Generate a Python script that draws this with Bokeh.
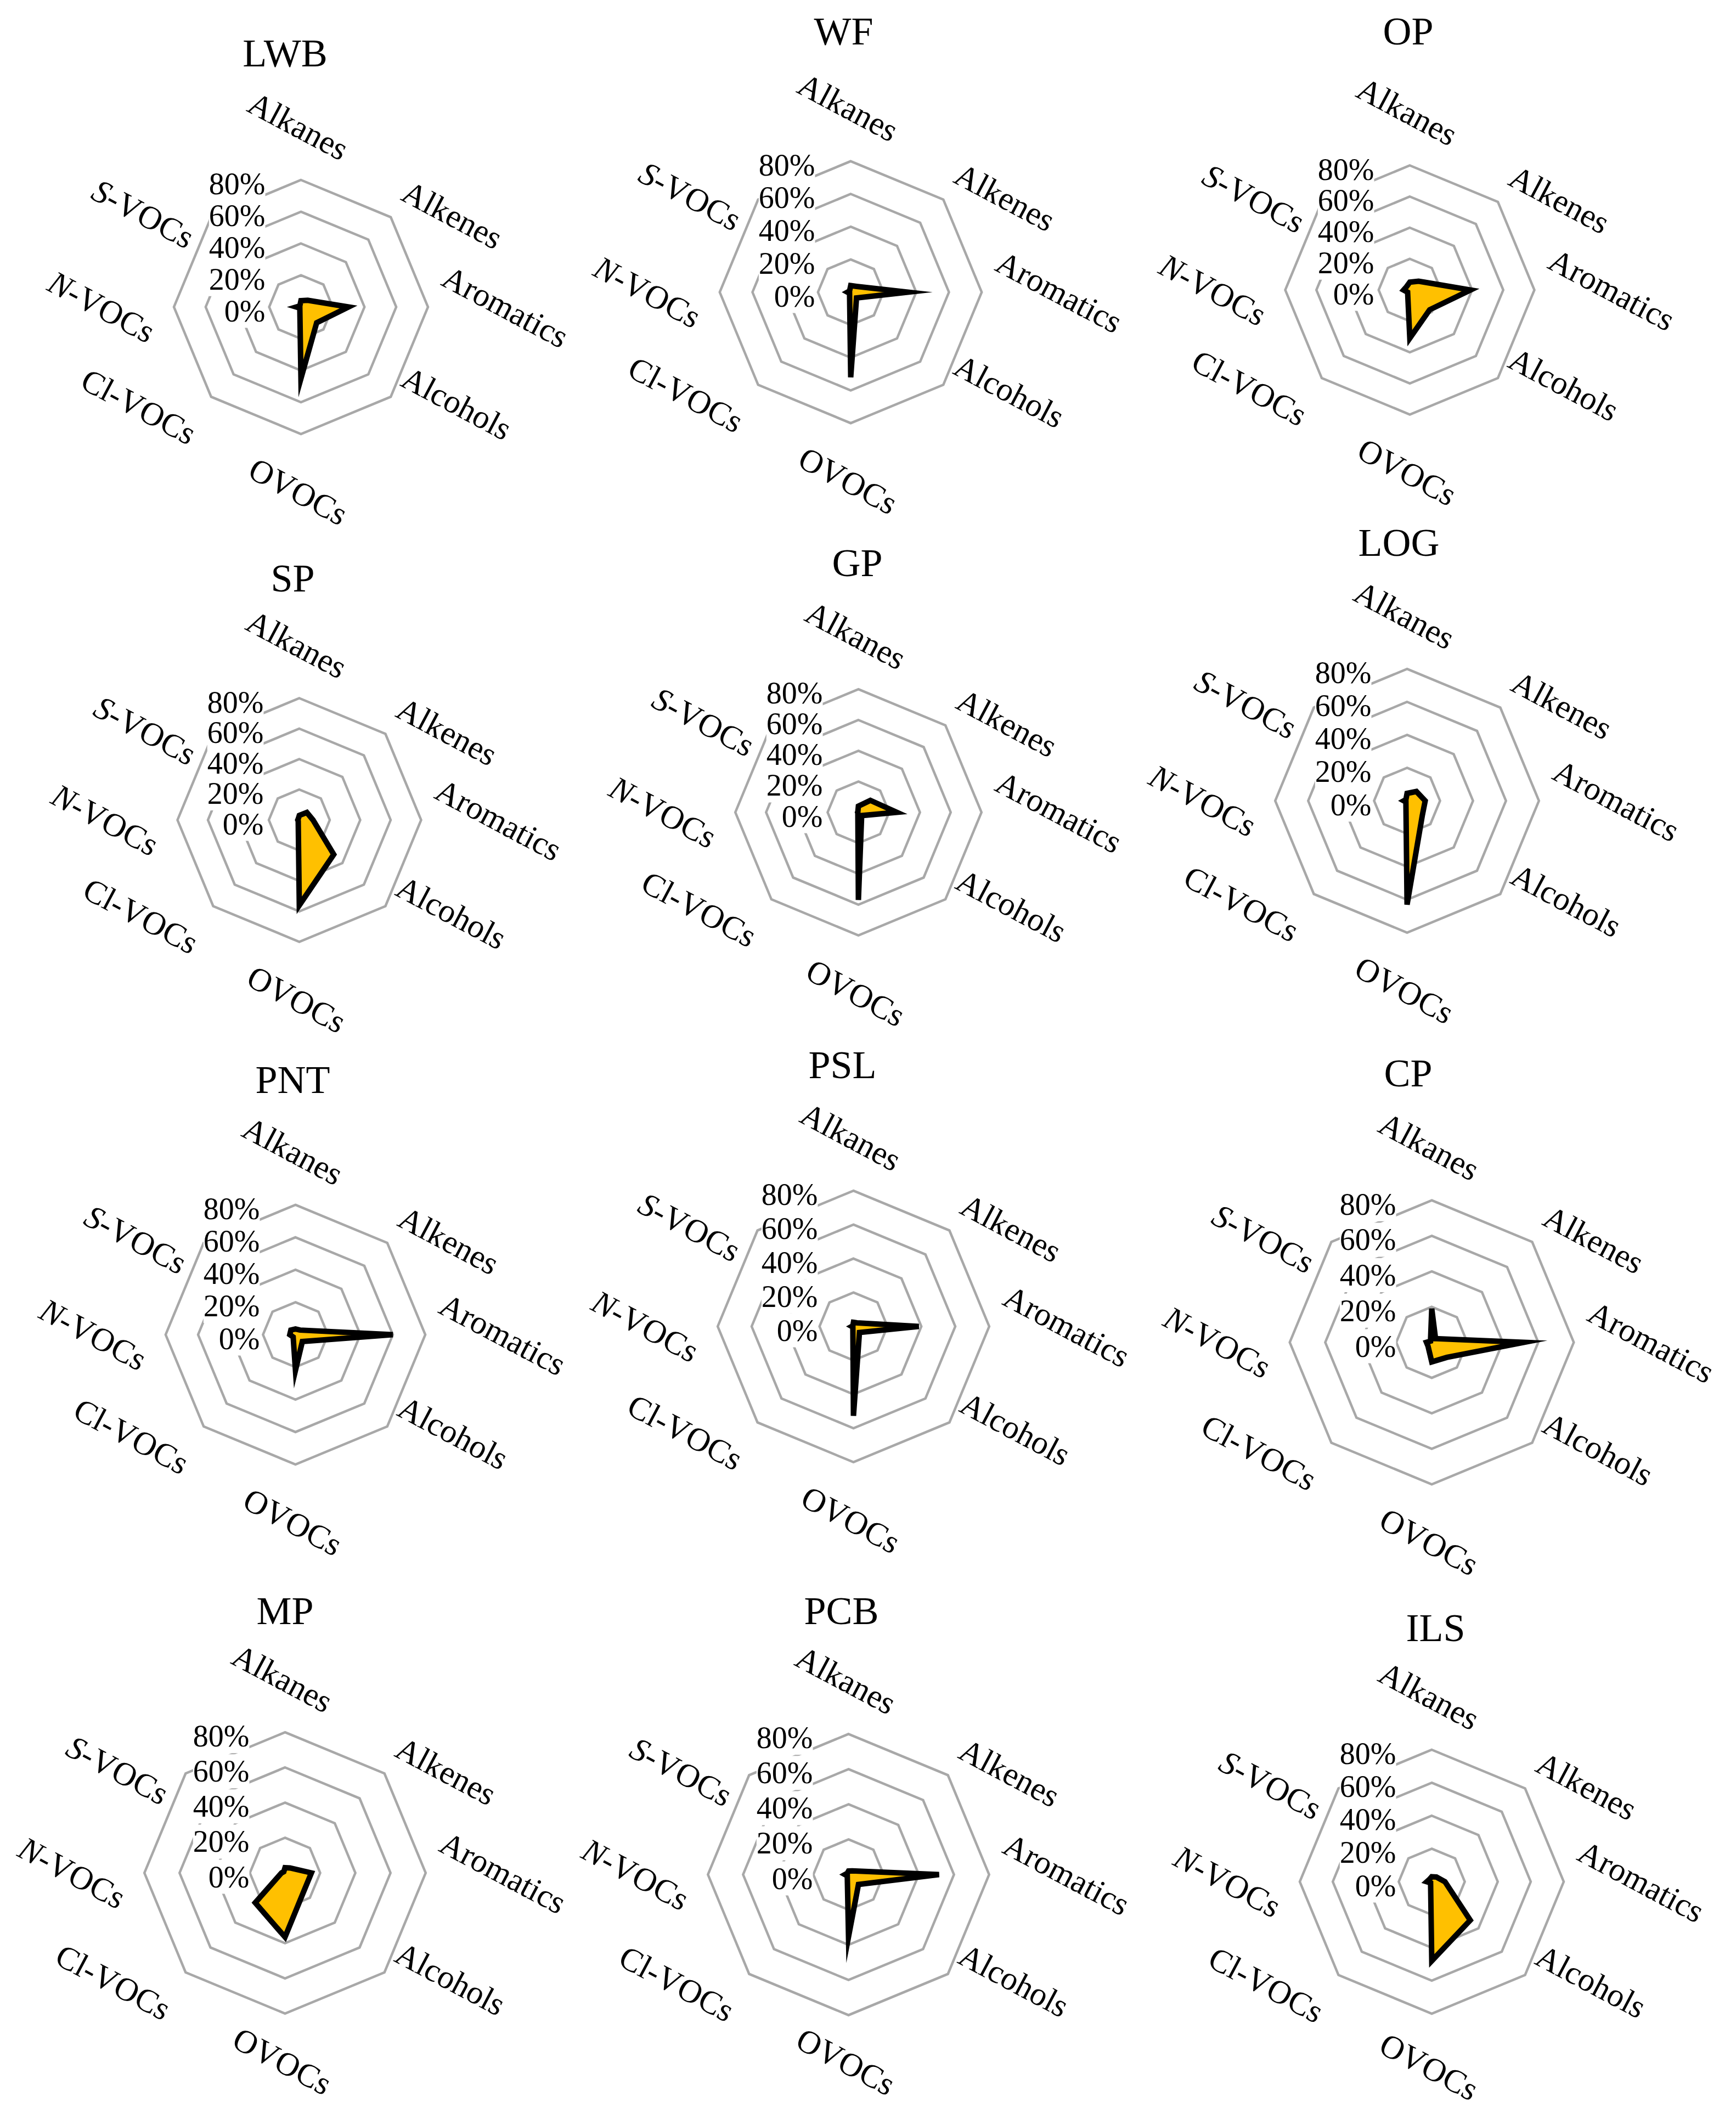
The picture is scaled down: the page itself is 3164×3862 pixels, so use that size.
import numpy as np
from bokeh.plotting import figure
from bokeh.models import Range1d
from bokeh.core.properties import value
from bokeh.embed import file_html
from bokeh.resources import INLINE

# ---------------- data ----------------
categories = ["Alkanes", "Alkenes", "Aromatics", "Alcohols", "OVOCs", "Cl-VOCs", "N-VOCs", "S-VOCs"]
sites = ["LWB", "WF", "OP", "SP", "GP", "LOG", "PNT", "PSL", "CP", "MP", "PCB", "ILS"]
ring_levels = [20, 40, 60, 80]
tick_values = [0, 20, 40, 60, 80]
tick_labels = ["0%", "20%", "40%", "60%", "80%"]
axis_max = 80

# percentage share per category (order as in `categories`)
lwb = [4, 6, 30, 14, 45, 1, 3, 1]
wf = [4, 5, 35, 5, 52, 1, 2, 1]
op = [5, 8, 39, 18, 31, 2, 4, 3]
sp = [3, 7, 9, 32, 56, 1, 1, 1]
gp = [4, 11, 25, 3, 57, 0.5, 0.5, 0.5]
log = [4.5, 8, 11, 13, 63, 1, 2, 1]
pnt = [3.5, 4, 60, 6, 22, 2, 3.5, 4]
psl = [2.4, 3, 38.5, 5, 52.7, 0.5, 1, 0.5]
cp = [19, 3, 52, 12, 11, 3, 3, 1]
mp = [3, 4, 15, 15, 36.5, 24, 2, 1]
pcb = [2, 3, 51.5, 8, 35.4, 1, 2, 1]
ils = [3, 4, 8, 33, 48, 1, 3, 2]
series = [lwb, wf, op, sp, gp, log, pnt, psl, cp, mp, pcb, ils]

# ---------------- layout (page pixels) ----------------
# centre x, centre y, radius of outer (80 %) ring, title x, title y, extra shift of bottom label
panels = [
    (556, 567, 231.5, 527, 104, 0), (1558, 540, 238.7, 1545, 64, 0), (2577, 536, 227, 2574, 64, 0),
    (553, 1502, 222, 541, 1061, 0), (1572, 1488, 224.3, 1570, 1033, 0), (2572, 1467, 240.3, 2557, 996, 0),
    (546, 2440, 236.6, 541, 1975, 0), (1563, 2425, 247.4, 1543, 1948, 0), (2617, 2454, 258.8, 2574, 1963, 0),
    (527, 3421, 256.3, 527, 2943, -18), (1554, 3424, 256.2, 1541, 2943, -20), (2617, 3437, 240.5, 2624, 2974, -8),
]
# label placement: (unit x, unit y (down), extra x, extra y) in page pixels
d = np.sqrt(0.5)
label_place = [(0, -1, -5, -98), (d, -d, 112, -4), (1, 0, 141, 0), (d, d, 120, 12),
               (0, 1, -5, 105), (-d, d, -132, 18), (-1, 0, -132, 0), (-d, -d, -124, -6)]

FONT = value("Liberation Serif")
CAT_FS = "60px"
W, H = 3148, 3846
p = figure(width=W, height=H, x_range=Range1d(8, 8 + W), y_range=Range1d(-(8 + H), -8),
           output_backend="svg", toolbar_location=None, min_border=0,
           x_axis_location=None, y_axis_location=None)
p.grid.visible = False
p.outline_line_color = None
p.background_fill_color = "white"

theta = np.deg2rad(90 - 45 * np.arange(len(categories)))
rot = -np.deg2rad(28)
dirx, diry = np.cos(rot), np.sin(rot)

for site, vals, (cx, cy, R, tx, ty, bshift) in zip(sites, series, panels):
    # rings
    xs, ys = [], []
    for lv in ring_levels:
        xs.append(list(cx + lv / axis_max * R * np.cos(theta)))
        ys.append(list(-cy + lv / axis_max * R * np.sin(theta)))
    p.patches(xs, ys, fill_color=None, line_color="#A8A8A8", line_width=4.5, line_join="miter")

    # tick labels with white background
    p.text(x=[cx - 65] * len(tick_values),
           y=[-(cy - t / axis_max * R + 7) for t in tick_values],
           text=tick_labels, text_align="right", text_baseline="middle",
           text_font=FONT, text_font_size="56px", text_color="black",
           background_fill_color="white")

    # data polygon
    v = np.array(vals, dtype=float)
    px = cx + v / axis_max * R * np.cos(theta)
    py = -cy + v / axis_max * R * np.sin(theta)
    p.patch(list(px), list(py), fill_color="#FFC000", line_color="black",
            line_width=10, line_join="miter")

    # category labels
    plain_x, plain_y, plain_t = [], [], []
    for cat, (ux, uy, ex, ey) in zip(categories, label_place):
        lx = cx + ux * R + ex
        ly = -(cy + uy * R + ey + (bshift if cat == "OVOCs" else 0))
        if cat in ("N-VOCs", "S-VOCs"):
            off = -65 if cat == "N-VOCs" else -70
            sx, sy = lx + off * dirx, ly + off * diry
            p.text(x=[sx], y=[sy], text=[cat[0]], angle=rot, text_align="right",
                   text_baseline="middle", text_font=FONT, text_font_size=CAT_FS,
                   text_font_style="italic", text_color="black")
            p.text(x=[sx], y=[sy], text=[cat[1:]], angle=rot, text_align="left",
                   text_baseline="middle", text_font=FONT, text_font_size=CAT_FS,
                   text_color="black")
        else:
            plain_x.append(lx); plain_y.append(ly); plain_t.append(cat)
    p.text(x=plain_x, y=plain_y, text=plain_t, angle=rot, text_align="center",
           text_baseline="middle", text_font=FONT, text_font_size=CAT_FS, text_color="black")

    # title
    p.text(x=[tx], y=[-ty], text=[site], text_align="center",
           text_baseline="middle", text_font=FONT, text_font_size="72px", text_color="black")

open("out.html", "w").write(file_html(p, INLINE))
